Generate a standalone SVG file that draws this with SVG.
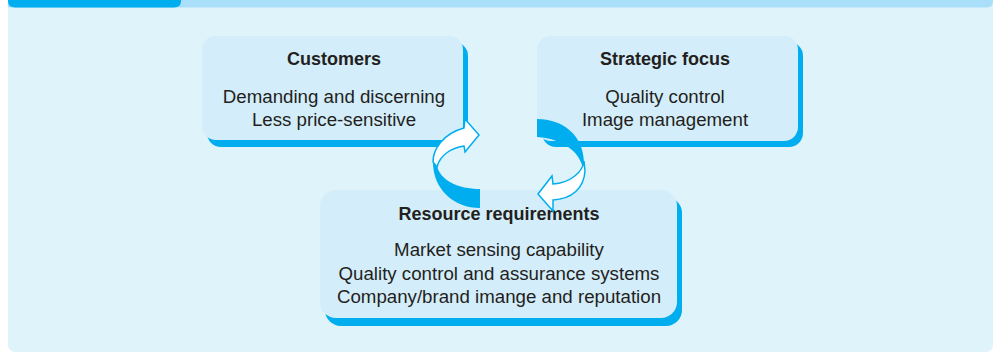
<svg xmlns="http://www.w3.org/2000/svg" width="995" height="353" viewBox="0 0 995 353">
  <style>
    .panel { fill: #dff3fb; }
    .stripe { fill: #a9dff9; }
    .tab { fill: #00aeef; }
    .shadow { fill: #00aeef; }
    .box { fill: #d4edfa; }
    .title { font-family: "Liberation Sans", Arial, Helvetica, sans-serif; font-size: 18px; font-weight: bold; fill: #231f20; text-anchor: middle; }
    .body { font-family: "Liberation Sans", Arial, Helvetica, sans-serif; font-size: 18.7px; fill: #231f20; text-anchor: middle; }
    .back { fill: #00aeef; }
    .face { fill: #ffffff; stroke: #00aeef; stroke-width: 1.5; stroke-linejoin: miter; }
  </style>

  <!-- background panel -->
  <rect class="panel" x="8" y="-10" width="985" height="362" rx="7"/>
  <path class="stripe" d="M8,0 H993 V1 Q993,7.5 987,7.5 H8 Z"/>
  <path class="tab" d="M8,0 H181 V1 Q181,7.5 174,7.5 H15 Q8,7.5 8,1 Z"/>

  <g id="node-customers">
    <rect class="shadow" x="207" y="42" width="261" height="105" rx="14"/>
    <rect class="box" x="202" y="36" width="261" height="104" rx="14"/>
    <text class="title" x="334" y="65">Customers</text>
    <text class="body" x="334" y="103">Demanding and discerning</text>
    <text class="body" x="334" y="126">Less price-sensitive</text>
  </g>

  <g id="node-strategic">
    <rect class="shadow" x="542" y="42" width="261" height="105" rx="14"/>
    <rect class="box" x="537" y="36" width="261" height="105" rx="14"/>
    <text class="title" x="665" y="65">Strategic focus</text>
    <text class="body" x="665" y="103">Quality control</text>
    <text class="body" x="665" y="126">Image management</text>
  </g>

  <g id="node-resources">
    <rect class="shadow" x="325" y="197" width="357" height="129" rx="16"/>
    <rect class="box" x="320" y="190" width="357" height="128" rx="16"/>
    <text class="title" x="499" y="220">Resource requirements</text>
    <text class="body" x="499" y="256">Market sensing capability</text>
    <text class="body" x="499" y="279.5">Quality control and assurance systems</text>
    <text class="body" x="499" y="303">Company/brand imange and reputation</text>
  </g>

  <g id="connectors">
    <!-- left curved arrow: resources -> strategic focus -->
    <path class="back" d="M480,189 C458,189 440,180 437,166 L433,160 C432,190 455,208 480,208 Z"/>
    <path class="face" d="M433,162 C433,150 442,134 464,128 L465,119 L479,135 L465,152 L464,146 C451,148 440,155 437,167 Z"/>
    <!-- right curved arrow: strategic focus -> resources -->
    <path class="back" d="M537,119 C563,119 583,135 584,162 L584,172 C581,153 565,139 537,137 Z"/>
    <path class="face" d="M584,161 C583,172 570,183 553,184 L552,176 L538,194 L553,211 L553,200 C572,199 584,188 585,171 Z"/>
  </g>
</svg>
